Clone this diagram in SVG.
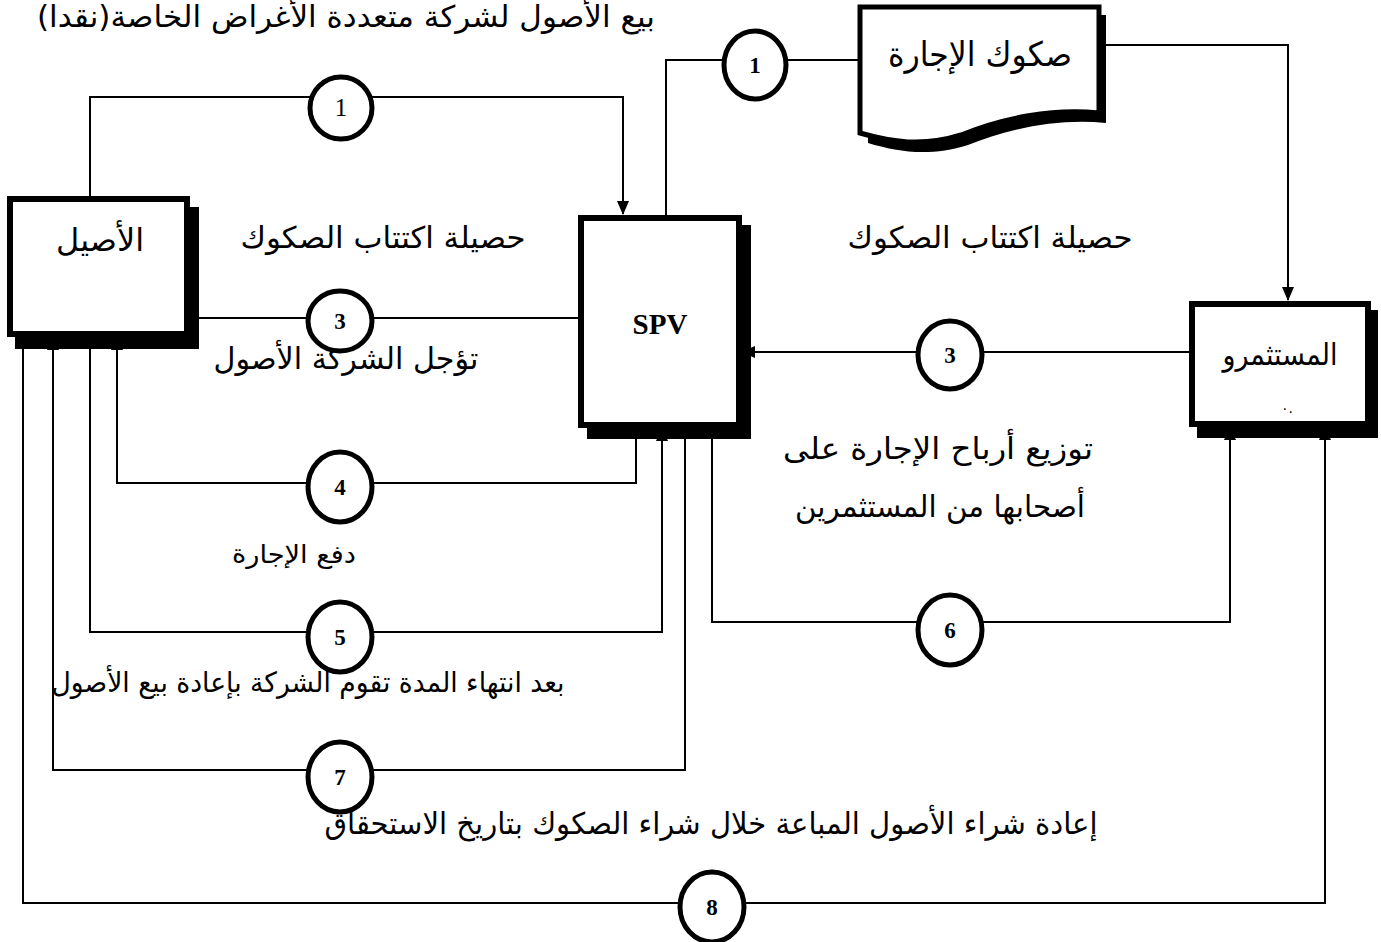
<svg xmlns="http://www.w3.org/2000/svg" width="1381" height="942" viewBox="0 0 1381 942">
<style>
.ln{fill:none;stroke:#000;stroke-width:2}
.box{fill:#fff;stroke:#000;stroke-width:6}
.sh{fill:#000}
.cir{fill:#fff;stroke:#000;stroke-width:5}
.num{font-family:"Liberation Serif",serif;font-weight:bold;font-size:23px;text-anchor:middle;fill:#000}
.ar{font-family:"DejaVu Sans","Noto Sans",sans-serif;fill:#000;text-anchor:middle}
.spv{font-family:"Liberation Serif",serif;font-weight:bold;font-size:29px;text-anchor:middle}
</style>
<defs>
<marker id="ah" markerWidth="14" markerHeight="14" refX="13" refY="7" orient="auto" markerUnits="userSpaceOnUse" viewBox="0 0 14 14">
<path d="M0,1 L14,7 L0,13 Z" fill="#000"/>
</marker>
</defs>
<rect width="1381" height="942" fill="#fff"/>
<text class="ar" direction="rtl" x="346" y="27" font-size="30" textLength="618" lengthAdjust="spacingAndGlyphs">بيع الأصول لشركة متعددة الأغراض الخاصة(نقدا)</text>
<g id="connectors">
<polyline class="ln" points="90,196 90,97 623,97 623,214" marker-end="url(#ah)"/>
<polyline class="ln" points="666,215 666,60 860,60"/>
<polyline class="ln" points="1105,45 1288,45 1288,300" marker-end="url(#ah)"/>
<line class="ln" x1="199" y1="318" x2="578" y2="318"/>
<line class="ln" x1="1190" y1="352" x2="742" y2="352" marker-end="url(#ah)"/>
<polyline class="ln" points="636,428 636,483 117,483 117,337" marker-end="url(#ah)"/>
<polyline class="ln" points="90,337 90,632 662,632 662,428" marker-end="url(#ah)"/>
<polyline class="ln" points="712,428 712,622 1230,622 1230,427" marker-end="url(#ah)"/>
<polyline class="ln" points="685,428 685,770 53,770 53,337" marker-end="url(#ah)"/>
<polyline class="ln" points="23,337 23,903 1325,903 1325,427" marker-end="url(#ah)"/>
</g>
<g id="node-asil">
<rect class="sh" x="15" y="207" width="184" height="142"/>
<rect class="box" x="10" y="199" width="177" height="135"/>
<text class="ar" direction="rtl" x="100" y="251" font-size="32" textLength="88" lengthAdjust="spacingAndGlyphs">الأصيل</text>
</g>
<g id="node-spv">
<rect class="sh" x="587" y="225" width="164" height="214"/>
<rect class="box" x="581" y="218" width="158" height="207"/>
<text class="spv" x="660" y="334">SPV</text>
</g>
<g id="node-investors">
<rect class="sh" x="1197" y="310" width="181" height="128"/>
<rect class="box" x="1192" y="304" width="176" height="120"/>
<text class="ar" direction="rtl" x="1280" y="365" font-size="30" textLength="115" lengthAdjust="spacingAndGlyphs">المستثمرو</text>
<text class="ar" x="1287" y="413" font-size="14">٠.</text>
</g>
<g id="node-sukuk">
<path class="sh" d="M868,15 H1106 V123 C1060,118 1010,128 968,145 C930,157 898,152 868,143 Z"/>
<path d="M860,7 H1099 V113 C1053,108 1003,118 961,135 C923,147 891,142 860,133 Z" fill="#fff" stroke="#000" stroke-width="5"/>
<text class="ar" direction="rtl" x="980" y="66" font-size="34" textLength="184" lengthAdjust="spacingAndGlyphs">صكوك الإجارة</text>
</g>
<g id="labels">
<text class="ar" direction="rtl" x="383" y="248" font-size="30" textLength="285" lengthAdjust="spacingAndGlyphs">حصيلة اكتتاب الصكوك</text>
<text class="ar" direction="rtl" x="990" y="248" font-size="30" textLength="285" lengthAdjust="spacingAndGlyphs">حصيلة اكتتاب الصكوك</text>
<text class="ar" direction="rtl" x="346" y="369" font-size="30" textLength="265" lengthAdjust="spacingAndGlyphs">تؤجل الشركة الأصول</text>
<text class="ar" direction="rtl" x="938" y="459" font-size="30" textLength="310" lengthAdjust="spacingAndGlyphs">توزيع أرباح الإجارة على</text>
<text class="ar" direction="rtl" x="940" y="517" font-size="30" textLength="290" lengthAdjust="spacingAndGlyphs">أصحابها من المستثمرين</text>
<text class="ar" direction="rtl" x="294" y="563" font-size="25" textLength="124" lengthAdjust="spacingAndGlyphs">دفع الإجارة</text>
<text class="ar" direction="rtl" x="308" y="692" font-size="28" textLength="513" lengthAdjust="spacingAndGlyphs">بعد انتهاء المدة تقوم الشركة بإعادة بيع الأصول</text>
<text class="ar" direction="rtl" x="711" y="834" font-size="30" textLength="773" lengthAdjust="spacingAndGlyphs">إعادة شراء الأصول المباعة خلال شراء الصكوك بتاريخ الاستحقاق</text>
</g>
<g id="step1a"><ellipse class="cir" cx="341" cy="108" rx="31" ry="31"/><text class="num" x="341" y="116" style="font-weight:normal;font-size:25px">1</text></g>
<g id="step1b"><ellipse class="cir" cx="755" cy="65" rx="31" ry="34"/><text class="num" x="755" y="73">1</text></g>
<g id="step3a"><ellipse class="cir" cx="340" cy="321" rx="32" ry="30"/><text class="num" x="340" y="329">3</text></g>
<g id="step3b"><ellipse class="cir" cx="950" cy="355" rx="32" ry="34"/><text class="num" x="950" y="363">3</text></g>
<g id="step4"><ellipse class="cir" cx="340" cy="487" rx="32" ry="35"/><text class="num" x="340" y="495">4</text></g>
<g id="step5"><ellipse class="cir" cx="340" cy="637" rx="32" ry="35"/><text class="num" x="340" y="645">5</text></g>
<g id="step6"><ellipse class="cir" cx="950" cy="630" rx="32" ry="35"/><text class="num" x="950" y="638">6</text></g>
<g id="step7"><ellipse class="cir" cx="340" cy="777" rx="32" ry="35"/><text class="num" x="340" y="785">7</text></g>
<g id="step8"><ellipse class="cir" cx="712" cy="907" rx="32" ry="35"/><text class="num" x="712" y="915">8</text></g>
</svg>
